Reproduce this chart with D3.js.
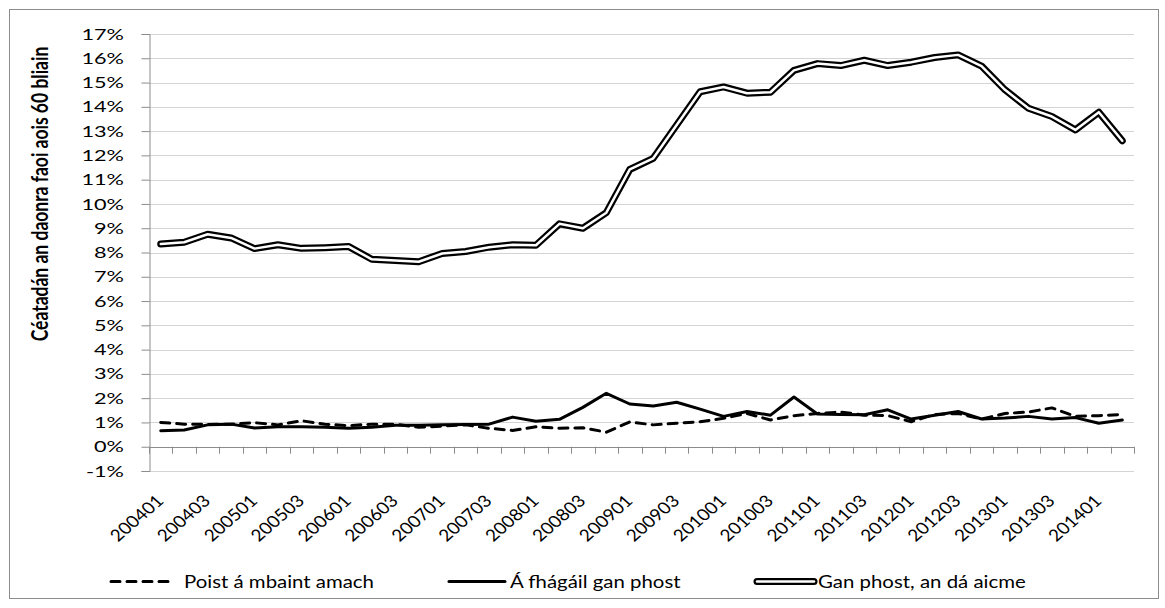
<!DOCTYPE html>
<html>
<head>
<meta charset="utf-8">
<script src="https://cdn.jsdelivr.net/npm/d3@7"></script>
<style>
  body { margin: 0; background: #fff; }
  text { font-family: Lato, "Open Sans", sans-serif; fill: #000; }
</style>
</head>
<body>
<svg id="chart"></svg>
<script>
// quarters shown on the x axis
const quarters = [
  '200401','200402','200403','200404','200501','200502','200503','200504',
  '200601','200602','200603','200604','200701','200702','200703','200704',
  '200801','200802','200803','200804','200901','200902','200903','200904',
  '201001','201002','201003','201004','201101','201102','201103','201104',
  '201201','201202','201203','201204','201301','201302','201303','201304',
  '201401','201402'
];

// Poist á mbaint amach (%)
const poist = [1.0, 0.93, 0.92, 0.93, 0.99, 0.9, 1.07, 0.93, 0.87, 0.93, 0.93, 0.8,
  0.85, 0.9, 0.76, 0.67, 0.82, 0.76, 0.78, 0.6, 1.02, 0.9, 0.97, 1.03,
  1.17, 1.37, 1.1, 1.28, 1.37, 1.43, 1.3, 1.28, 1.03, 1.33, 1.37, 1.14,
  1.37, 1.43, 1.6, 1.25, 1.28, 1.33];

// Á fhágáil gan phost (%)
const fhagail = [0.66, 0.69, 0.9, 0.93, 0.77, 0.82, 0.82, 0.8, 0.76, 0.8, 0.88, 0.88,
  0.9, 0.92, 0.93, 1.22, 1.05, 1.13, 1.62, 2.2, 1.76, 1.68, 1.83, 1.55,
  1.25, 1.45, 1.3, 2.05, 1.35, 1.33, 1.32, 1.52, 1.14, 1.3, 1.45, 1.14,
  1.18, 1.25, 1.14, 1.2, 0.97, 1.1];

// Gan phost, an dá aicme (%)
const ganPhost = [8.35, 8.42, 8.75, 8.6, 8.16, 8.32, 8.17, 8.2, 8.25, 7.72, 7.67, 7.62,
  7.96, 8.04, 8.22, 8.32, 8.3, 9.18, 9.0, 9.64, 11.42, 11.88, 13.25, 14.62,
  14.82, 14.56, 14.6, 15.5, 15.78, 15.7, 15.92, 15.7, 15.84, 16.03, 16.14, 15.68,
  14.7, 13.94, 13.6, 13.05, 13.78, 12.6];

const yTicks = [-1, 0, 1, 2, 3, 4, 5, 6, 7, 8, 9, 10, 11, 12, 13, 14, 15, 16, 17];

const legendNames = ['Poist á mbaint amach', 'Á fhágáil gan phost', 'Gan phost, an dá aicme'];

const width = 1165, height = 608;
const sx = 1.4; // the picture is stretched sideways, so is the text

const svg = d3.select('#chart')
  .attr('width', width)
  .attr('height', height);

// outer chart frame
svg.append('rect')
  .attr('x', 9.5).attr('y', 9.5)
  .attr('width', 1149).attr('height', 589)
  .attr('fill', 'none')
  .attr('stroke', '#8c8c8c');

const x = d3.scaleBand()
  .domain(quarters)
  .range([149, 1134])
  .padding(0);

const y = d3.scaleLinear()
  .domain([-1, 17])
  .range([471, 34]);

const cx = (d) => x(d) + x.bandwidth() / 2;

// gridlines
svg.append('g')
  .selectAll('line')
  .data(yTicks)
  .enter().append('line')
  .attr('x1', 149).attr('x2', 1134)
  .attr('y1', (d) => Math.round(y(d)) + 0.5)
  .attr('y2', (d) => Math.round(y(d)) + 0.5)
  .attr('stroke', '#d4d4d4')
  .attr('stroke-width', 1.2);

// y axis
const yAxis = svg.append('g')
  .attr('transform', 'translate(149.5,0)')
  .call(d3.axisLeft(y).tickValues(yTicks).tickSize(8).tickFormat(''));
yAxis.select('.domain').attr('stroke', '#8c8c8c');
yAxis.selectAll('.tick line').attr('stroke', '#8c8c8c');

svg.append('g')
  .selectAll('text')
  .data(yTicks)
  .enter().append('text')
  .attr('transform', (d) => `translate(124,${y(d)}) scale(${sx},1)`)
  .attr('text-anchor', 'end')
  .attr('dy', '0.36em')
  .style('font-size', '15.5px')
  .text((d) => d + '%');

// x axis at 0%, ticks between categories
const boundaries = quarters.map((q) => x(q)).concat([x.range()[1]]);
svg.append('line')
  .attr('x1', 149).attr('x2', 1134)
  .attr('y1', Math.round(y(0)) + 0.5).attr('y2', Math.round(y(0)) + 0.5)
  .attr('stroke', '#8c8c8c');
svg.append('g')
  .selectAll('line')
  .data(boundaries)
  .enter().append('line')
  .attr('x1', (d) => Math.round(d) + 0.5)
  .attr('x2', (d) => Math.round(d) + 0.5)
  .attr('y1', y(0)).attr('y2', y(0) + 7)
  .attr('stroke', '#8c8c8c');

// every second quarter gets a label
svg.append('g')
  .selectAll('text')
  .data(quarters.filter((q, i) => i % 2 === 0))
  .enter().append('text')
  .attr('transform', (d) => `translate(${cx(d) + 4},502) scale(1.15,1) rotate(-45)`)
  .attr('text-anchor', 'end')
  .style('font-size', '16.5px')
  .text((d) => d);

// y axis title
svg.append('text')
  .attr('transform', `translate(48,194) scale(1.3,1) rotate(-90)`)
  .attr('text-anchor', 'middle')
  .style('font-size', '17.5px')
  .style('font-weight', 'bold')
  .text('Céatadán an daonra faoi aois 60 bliain');

// lines
const line = d3.line()
  .x((d, i) => cx(quarters[i]))
  .y((d) => y(d));

svg.append('path')
  .attr('d', line(poist))
  .attr('fill', 'none')
  .attr('stroke', '#000')
  .attr('stroke-width', 3)
  .attr('stroke-dasharray', '9,7')
  .attr('stroke-linecap', 'round')
  .attr('stroke-linejoin', 'round');

svg.append('path')
  .attr('d', line(fhagail))
  .attr('fill', 'none')
  .attr('stroke', '#000')
  .attr('stroke-width', 3)
  .attr('stroke-linejoin', 'round')
  .attr('stroke-linecap', 'round');

// double line: thick black with a white core
svg.append('path')
  .attr('d', line(ganPhost))
  .attr('fill', 'none')
  .attr('stroke', '#000')
  .attr('stroke-width', 7)
  .attr('stroke-linejoin', 'round')
  .attr('stroke-linecap', 'round');
svg.append('path')
  .attr('d', line(ganPhost))
  .attr('fill', 'none')
  .attr('stroke', '#fff')
  .attr('stroke-width', 2.5)
  .attr('stroke-linejoin', 'round')
  .attr('stroke-linecap', 'round');

// legend
const ly = 581.5;
const legendItems = [
  { x1: 111, x2: 175, tx: 184, style: 'dash' },
  { x1: 449, x2: 505, tx: 510, style: 'solid' },
  { x1: 757, x2: 814, tx: 818, style: 'double' }
];
const legend = svg.append('g');
legendItems.forEach((item, i) => {
  if (item.style === 'double') {
    legend.append('line')
      .attr('x1', item.x1).attr('x2', item.x2).attr('y1', ly).attr('y2', ly)
      .attr('stroke', '#000').attr('stroke-width', 7).attr('stroke-linecap', 'round');
    legend.append('line')
      .attr('x1', item.x1).attr('x2', item.x2).attr('y1', ly).attr('y2', ly)
      .attr('stroke', '#fff').attr('stroke-width', 2.5).attr('stroke-linecap', 'round');
  } else {
    legend.append('line')
      .attr('x1', item.x1).attr('x2', item.x2).attr('y1', ly).attr('y2', ly)
      .attr('stroke', '#000').attr('stroke-width', 3)
      .attr('stroke-linecap', 'round')
      .attr('stroke-dasharray', item.style === 'dash' ? '9,7' : null);
  }
  legend.append('text')
    .attr('transform', `translate(${item.tx},${ly}) scale(1.2,1)`)
    .attr('dy', '0.36em')
    .style('font-size', '17px')
    .text(legendNames[i]);
});
</script>
</body>
</html>
